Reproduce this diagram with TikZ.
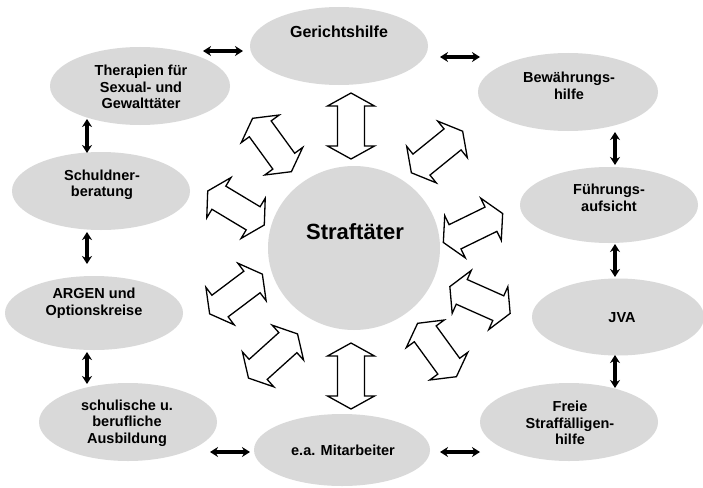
\documentclass[tikz,border=0pt]{standalone}
\usepackage{fontspec}
\setmainfont{Liberation Sans}
\usetikzlibrary{shapes.geometric,arrows.meta}
\definecolor{ellgray}{RGB}{217,217,217}
\begin{document}
\begin{tikzpicture}[x=1pt,y=-1pt,
  ell/.style={ellipse, fill=ellgray, draw=none, inner sep=0pt},
  lbl/.style={font=\bfseries\fontsize{14.5}{16.5}\selectfont, align=center, inner sep=0pt, text=black},
  link/.style={line width=3.6pt, {Stealth[length=8pt,width=10pt]}-{Stealth[length=8pt,width=10pt]}},
  blockarrow/.style={draw=black, fill=white, line width=1.3pt, line join=miter},
  bigarrow/.pic={\path[blockarrow] (33,0) -- (20,23.5) -- (20,13.5) -- (-20,13.5) -- (-20,23.5) -- (-33,0) -- (-20,-23.5) -- (-20,-13.5) -- (20,-13.5) -- (20,-23.5) -- cycle;}]
\path[use as bounding box, fill=white] (0,0) rectangle (703,487);

% ellipses
\node[ell, minimum width=178pt, minimum height=78pt] (ger) at (339,46) {};
\node[ell, minimum width=180pt, minimum height=78pt] (ther) at (140,86) {};
\node[ell, minimum width=178pt, minimum height=78pt] (schu) at (101,191) {};
\node[ell, minimum width=178pt, minimum height=74pt] (arg) at (94,313) {};
\node[ell, minimum width=178pt, minimum height=78pt] (ausb) at (128,422) {};
\node[ell, minimum width=176pt, minimum height=72pt] (mit) at (342,450) {};
\node[ell, minimum width=180pt, minimum height=78pt] (bew) at (568,92) {};
\node[ell, minimum width=178pt, minimum height=76pt] (fue) at (609,205) {};
\node[ell, minimum width=172pt, minimum height=77pt] (jva) at (618,317) {};
\node[ell, minimum width=178pt, minimum height=78pt] (frei) at (569,422) {};
\node[ell, minimum width=172pt, minimum height=164pt] (straf) at (354,248) {};

% labels
\node[lbl, font=\bfseries\fontsize{16}{18}\selectfont] (gerT) at (339,32) {Gerichtshilfe};
\node[lbl] (therT) at (141,87) {Therapien für\\Sexual- und\\Gewalttäter};
\node[lbl] (schuT) at (102,185) {Schuldner-\\beratung};
\node[lbl] (argT) at (94,303) {ARGEN und\\Optionskreise};
\node[lbl] (ausbT) at (127,423) {schulische u.\\berufliche\\Ausbildung};
\node[lbl] (mitT) at (343,450) {e.a. Mitarbeiter};
\node[lbl] (bewT) at (569,86) {Bewährungs-\\hilfe};
\node[lbl] (fueT) at (609,198) {Führungs-\\aufsicht};
\node[lbl] (jvaT) at (622,318) {JVA};
\node[lbl] (freiT) at (570,423) {Freie\\Straffälligen-\\hilfe};
\node[lbl, font=\bfseries\fontsize{22}{24}\selectfont] (strafT) at (355,232) {Straftäter};

% small link arrows
\coordinate (h1a) at (203,51);  \coordinate (h1b) at (243,51);
\coordinate (h2a) at (440,57);  \coordinate (h2b) at (480,57);
\coordinate (h3a) at (210,452); \coordinate (h3b) at (250,452);
\coordinate (h4a) at (440,452); \coordinate (h4b) at (480,452);
\coordinate (v1a) at (87,119);  \coordinate (v1b) at (87,153);
\coordinate (v2a) at (87,232);  \coordinate (v2b) at (87,264);
\coordinate (v3a) at (87,352);  \coordinate (v3b) at (87,384);
\coordinate (v4a) at (615,132); \coordinate (v4b) at (615,165);
\coordinate (v5a) at (615,244); \coordinate (v5b) at (615,277);
\coordinate (v6a) at (615,355); \coordinate (v6b) at (615,388);
\foreach \p in {h1,h2,h3,h4,v1,v2,v3,v4,v5,v6}
  \draw[link] (\p a) -- (\p b);

% block double arrows around Straftäter
\pic[rotate=90]  at (351,126) {bigarrow};
\pic[rotate=90]  at (351,376) {bigarrow};
\pic[rotate=-54] at (272,145) {bigarrow};
\pic[rotate=-31] at (236,208) {bigarrow};
\pic[rotate=37]  at (236,294) {bigarrow};
\pic[rotate=42]  at (273,356) {bigarrow};
\pic[rotate=39]  at (437,152) {bigarrow};
\pic[rotate=26]  at (473,228) {bigarrow};
\pic[rotate=-24] at (480,300) {bigarrow};
\pic[rotate=-54] at (437,350) {bigarrow};
\end{tikzpicture}
\end{document}
